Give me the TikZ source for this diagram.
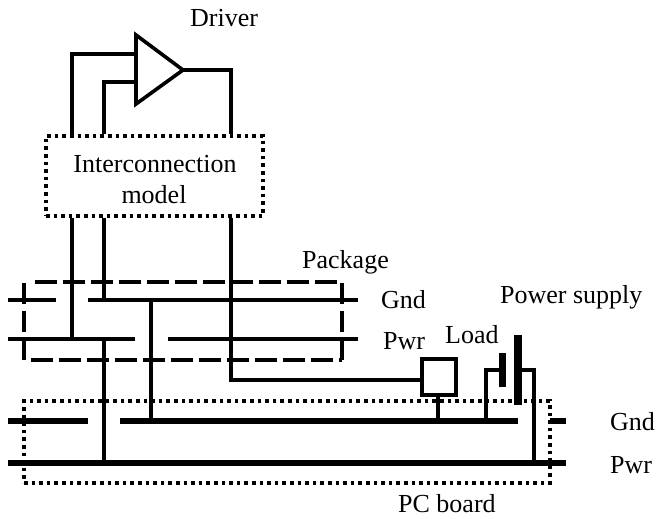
\documentclass[tikz,border=0pt]{standalone}
\usepackage{fontspec}
\setmainfont{Liberation Serif}
\tikzset{
  wire/.style={line width=3.4pt},
  plane/.style={line width=6.4pt},
  dotbox/.style={draw,line width=3.4pt,dash pattern=on 3.6pt off 4pt},
  dashline/.style={line width=3.4pt,dash pattern=on 21.5pt off 6.5pt},
  lbl/.style={anchor=base west,inner sep=0pt,font=\fontsize{26}{30}\selectfont},
}

\begin{document}
\begin{tikzpicture}[x=1pt,y=-1pt]
   \useasboundingbox (0,0) rectangle (657,519);
   % driver
   \coordinate (triT) at (136,35);
   \coordinate (triB) at (136,104);
   \coordinate (triR) at (183,70);
   \coordinate (inA) at (136,54);
   \coordinate (inB) at (136,82);
   \draw[line width=3.6pt] (triT) -- (triR) -- (triB) -- cycle;
   % boxes
   \node (model) [dotbox,minimum width=217pt,minimum height=80pt,inner sep=0pt] at (154.5,176) {};
   \node (package) [minimum width=318pt,minimum height=78pt,inner sep=0pt,outer sep=0pt] at (183,321) {};
   \node (board) [dotbox,minimum width=526pt,minimum height=82pt,inner sep=0pt] at (287,442) {};
   \node (load) [draw,line width=3.6pt,minimum width=34pt,minimum height=36pt,inner sep=0pt] at (439,377) {};
   % package outline, one side at a time
   \coordinate (pakT) at (35,282);
   \coordinate (pakB) at (31,360);
   \draw[dashline] (package.north -| pakT) -- (package.north east);
   \draw[dashline] (package.south -| pakB) -- (package.south east);
   \draw[dashline] (package.south west) -- (package.north west);
   \draw[dashline] (package.south east) -- (package.north east);
   % package planes
   \coordinate (pgndL) at (8,300);
   \coordinate (pgndM) at (56,300);
   \coordinate (pgndN) at (88,300);
   \coordinate (pgndR) at (358,300);
   \coordinate (ppwrL) at (8,339);
   \coordinate (ppwrM) at (135,339);
   \coordinate (ppwrN) at (168,339);
   \coordinate (ppwrR) at (358,339);
   \draw[wire] (pgndL) -- (pgndM);
   \draw[wire] (pgndN) -- (pgndR);
   \draw[wire] (ppwrL) -- (ppwrM);
   \draw[wire] (ppwrN) -- (ppwrR);
   % board planes
   \coordinate (bgndL) at (8,421);
   \coordinate (bgndM) at (88,421);
   \coordinate (bgndN) at (120,421);
   \coordinate (bgndR) at (518,421);
   \coordinate (bgndS) at (550,421);
   \coordinate (bgndT) at (566,421);
   \coordinate (bpwrL) at (8,463);
   \coordinate (bpwrR) at (566,463);
   \draw[plane] (bgndL) -- (bgndM);
   \draw[plane] (bgndN) -- (bgndR);
   \draw[plane] (bgndS) -- (bgndT);
   \draw[plane] (bpwrL) -- (bpwrR);
   % wires
   \coordinate (colA) at (72,339);
   \coordinate (colB) at (104,300);
   \coordinate (colC) at (231,380);
   \coordinate (colD) at (151,300);
   \coordinate (colE) at (104,339);
   \coordinate (stem) at (438,421);
   \draw[wire] (inA) -| (model.north -| colA);
   \draw[wire] (inB) -| (model.north -| colB);
   \draw[wire] (triR) -| (model.north -| colC);
   \draw[wire] (model.south -| colA) -- (colA);
   \draw[wire] (model.south -| colB) -- (colB);
   \draw[wire] (model.south -| colC) -- (colC) -- (load.west |- colC);
   \draw[wire] (colD) -- (bgndL -| colD);
   \draw[wire] (colE) -- (bpwrL -| colE);
   \draw[wire] (load.south -| stem) -- (stem);
   % supply
   \coordinate (batA) at (502,370);
   \coordinate (batB) at (518,370);
   \coordinate (leadA) at (486,421);
   \coordinate (leadB) at (534,463);
   \draw[line width=7pt] (502,353) -- (502,387);
   \draw[line width=8pt] (518,335) -- (518,405);
   \draw[wire] (batA) -| (leadA);
   \draw[wire] (batB) -| (leadB);
   % labels
   \node (drvlbl) [lbl] at (190,27) {Driver};
   \node (modlbl) [lbl,anchor=base] at (155,172) {Interconnection};
   \node (modlbm) [lbl,anchor=base] at (154,203) {model};
   \node (paklbl) [lbl] at (302,268) {Package};
   \node (gndlbl) [lbl] at (381,308) {Gnd};
   \node (pwrlbl) [lbl] at (383,349) {Pwr};
   \node (suplbl) [lbl] at (500,303) {Power supply};
   \node (loadlbl) [lbl] at (445,343) {Load};
   \node (gndlbm) [lbl] at (610,430) {Gnd};
   \node (pwrlbm) [lbl] at (610,473) {Pwr};
   \node (boardlbl) [lbl] at (398,512) {PC board};
  \end{tikzpicture}
\end{document}
